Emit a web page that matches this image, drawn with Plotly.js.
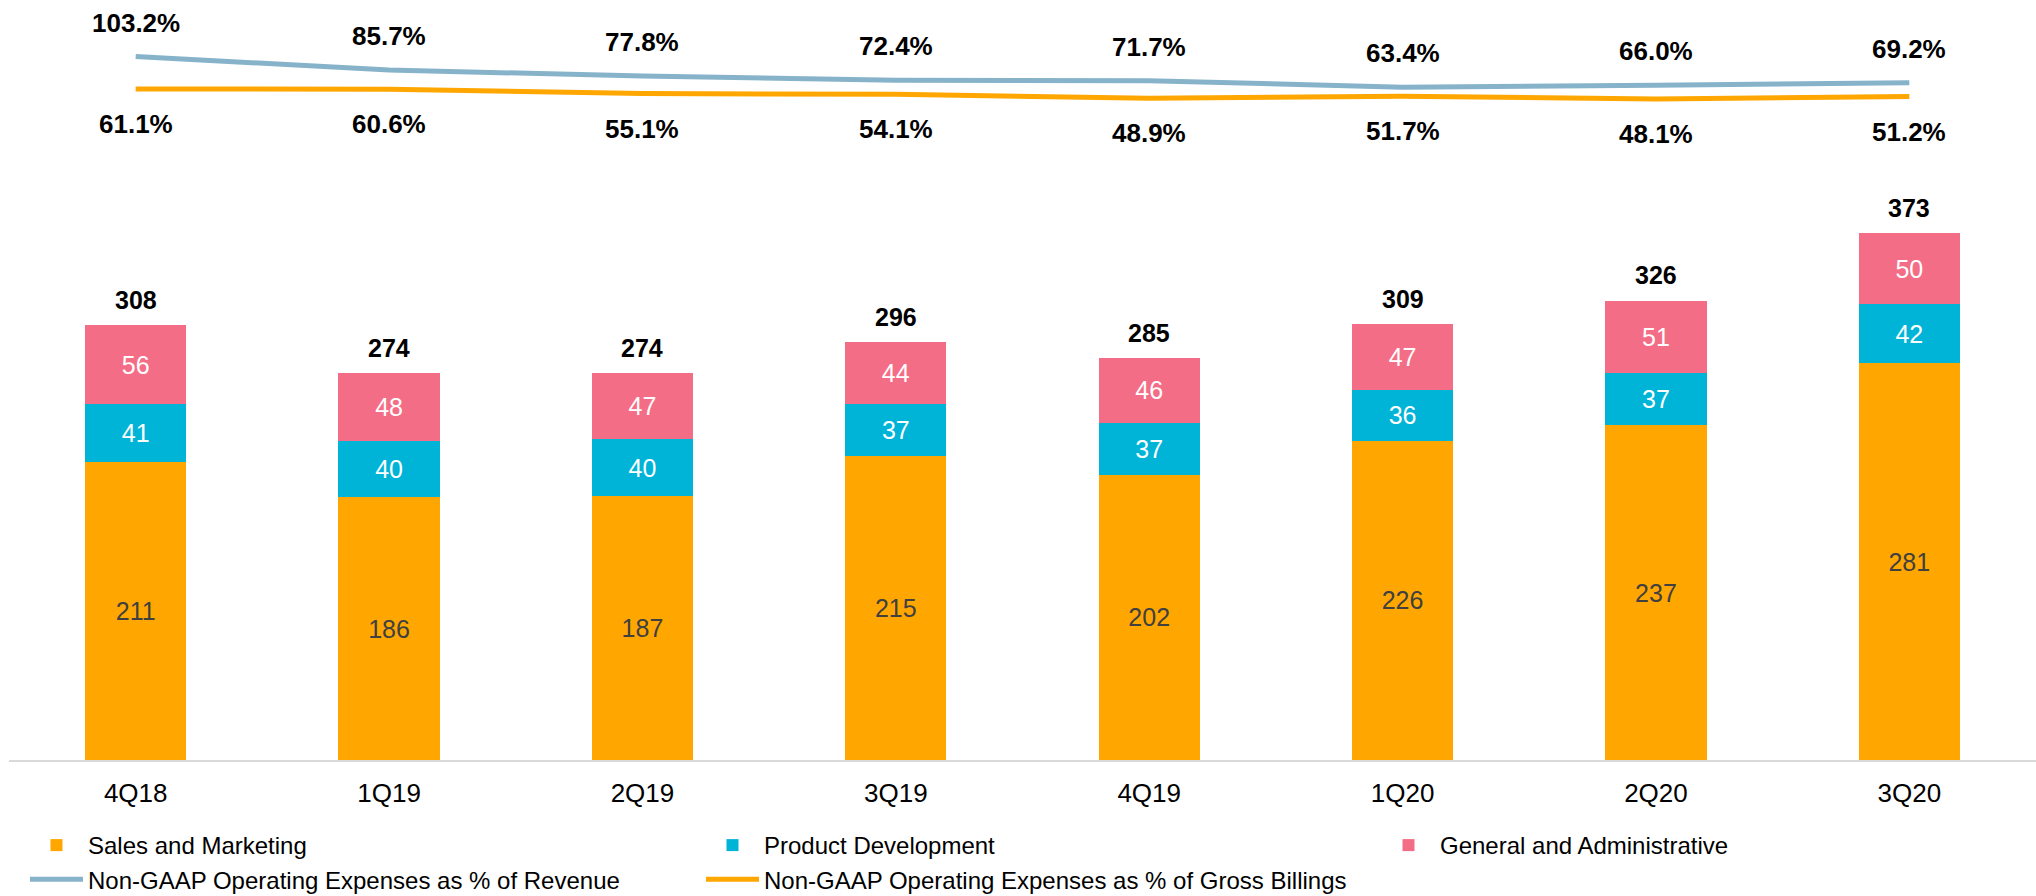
<!DOCTYPE html>
<html>
<head>
<meta charset="utf-8">
<script src="https://cdn.plot.ly/plotly-3.0.1.min.js"></script>
<style>
  html, body { margin: 0; padding: 0; background: #ffffff; }
  #chart { width: 2036px; height: 896px; }
</style>
</head>
<body>
<div id="chart"></div>
<script>
const categories = ['4Q18', '1Q19', '2Q19', '3Q19', '4Q19', '1Q20', '2Q20', '3Q20'];
const salesMarketing = [211, 186, 187, 215, 202, 226, 237, 281];
const productDevelopment = [41, 40, 40, 37, 37, 36, 37, 42];
const generalAdmin = [56, 48, 47, 44, 46, 47, 51, 50];
const totals = [308, 274, 274, 296, 285, 309, 326, 373];
const opexPctRevenue = [103.2, 85.7, 77.8, 72.4, 71.7, 63.4, 66.0, 69.2];
const opexPctBillings = [61.1, 60.6, 55.1, 54.1, 48.9, 51.7, 48.1, 51.2];

const FONT = 'Liberation Sans, Arial, Helvetica, sans-serif';
const C_SALES = '#FFA700';
const C_PD = '#00B4D7';
const C_GA = '#F46D86';
const C_REV = '#86B3CA';
const C_BILL = '#FFA700';

function barTrace(name, values, color, textColor) {
  return {
    type: 'bar', name: name, x: categories, y: values,
    marker: { color: color, line: { width: 0 } },
    text: values.map(String), textposition: 'inside', insidetextanchor: 'middle',
    textangle: 0, constraintext: 'none',
    textfont: { family: FONT, size: 25, color: textColor },
    hoverinfo: 'skip', yaxis: 'y'
  };
}

const traces = [
  barTrace('Sales and Marketing', salesMarketing, C_SALES, '#404040'),
  barTrace('Product Development', productDevelopment, C_PD, '#ffffff'),
  barTrace('General and Administrative', generalAdmin, C_GA, '#ffffff'),
  {
    type: 'scatter', mode: 'lines', name: 'Non-GAAP Operating Expenses as % of Revenue',
    x: categories, y: opexPctRevenue, yaxis: 'y2',
    line: { color: C_REV, width: 5 }, hoverinfo: 'skip'
  },
  {
    type: 'scatter', mode: 'lines', name: 'Non-GAAP Operating Expenses as % of Gross Billings',
    x: categories, y: opexPctBillings, yaxis: 'y2',
    line: { color: C_BILL, width: 5 }, hoverinfo: 'skip'
  }
];

const annotations = [];
categories.forEach(function (c, i) {
  annotations.push({
    x: c, y: totals[i], xref: 'x', yref: 'y', yanchor: 'middle', yshift: 25,
    text: '<b>' + totals[i] + '</b>', showarrow: false,
    font: { family: FONT, size: 25, color: '#000000' }
  });
  annotations.push({
    x: c, y: opexPctRevenue[i], xref: 'x', yref: 'y2', yanchor: 'middle', yshift: 34,
    text: '<b>' + opexPctRevenue[i].toFixed(1) + '%</b>', showarrow: false,
    font: { family: FONT, size: 26, color: '#000000' }
  });
  annotations.push({
    x: c, y: opexPctBillings[i], xref: 'x', yref: 'y2', yanchor: 'middle', yshift: -35,
    text: '<b>' + opexPctBillings[i].toFixed(1) + '%</b>', showarrow: false,
    font: { family: FONT, size: 26, color: '#000000' }
  });
});

const layout = {
  width: 2036, height: 896,
  margin: { l: 9, r: 0, t: 0, b: 136, pad: 0 },
  paper_bgcolor: '#ffffff', plot_bgcolor: '#ffffff',
  barmode: 'stack', bargap: 0.6,
  font: { family: FONT, size: 24, color: '#000000' },
  showlegend: true,
  xaxis: {
    type: 'category', showgrid: false, zeroline: false, ticks: '',
    showline: true, linecolor: '#D9D9D9', linewidth: 2,
    tickfont: { family: FONT, size: 26, color: '#000000' },
    ticklabelstandoff: 9, fixedrange: true
  },
  yaxis: { range: [0, 538.2], visible: false, fixedrange: true },
  yaxis2: { range: [-810.4, 176.6], overlaying: 'y', visible: false, fixedrange: true },
  legend: {
    orientation: 'h', xref: 'container', yref: 'container',
    x: 25 / 2036, xanchor: 'left', y: 1 - 823 / 896, yanchor: 'top',
    entrywidth: 608, entrywidthmode: 'pixels', itemwidth: 53,
    traceorder: 'normal',
    font: { family: FONT, size: 24, color: '#000000' },
    bgcolor: 'rgba(0,0,0,0)', borderwidth: 0
  },
  annotations: annotations
};

Plotly.newPlot('chart', traces, layout, { displayModeBar: false, staticPlot: true });
</script>
</body>
</html>
